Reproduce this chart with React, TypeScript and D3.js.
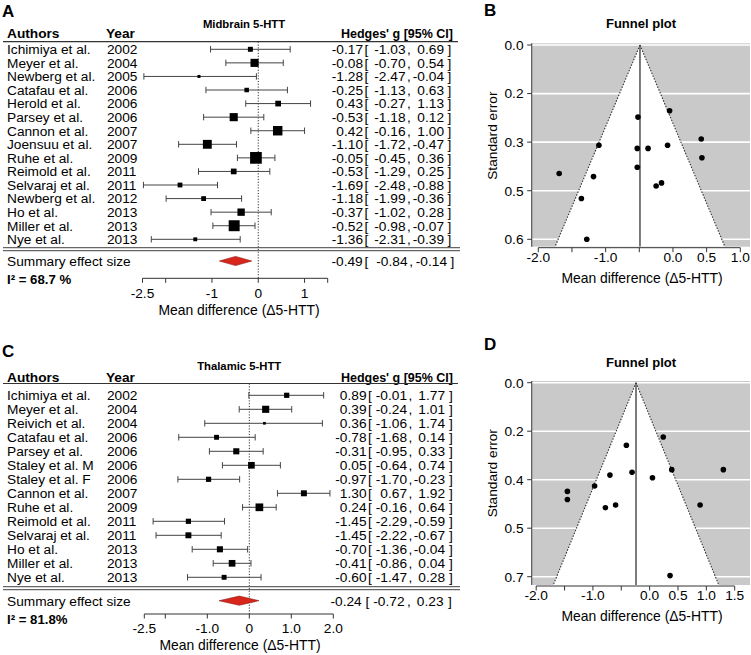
import React from "react";
import * as d3 from "d3";

const FONT = "'Liberation Sans', Arial, Helvetica, sans-serif";

// ---------- Panel A : Midbrain 5-HTT ----------
const authorsA = ["Ichimiya et al.", "Meyer et al.", "Newberg et al.", "Catafau et al.", "Herold et al.", "Parsey et al.", "Cannon et al.", "Joensuu et al.", "Ruhe et al.", "Reimold et al.", "Selvaraj et al.", "Newberg et al.", "Ho et al.", "Miller et al.", "Nye et al."];
const yearsA = ["2002", "2004", "2005", "2006", "2006", "2006", "2007", "2007", "2009", "2011", "2011", "2012", "2013", "2013", "2013"];
const gA = [-0.17, -0.08, -1.28, -0.25, 0.43, -0.53, 0.42, -1.10, -0.05, -0.53, -1.69, -1.18, -0.37, -0.52, -1.36];
const loA = [-1.03, -0.70, -2.47, -1.13, -0.27, -1.18, -0.16, -1.72, -0.45, -1.29, -2.48, -1.99, -1.02, -0.98, -2.31];
const hiA = [0.69, 0.54, -0.04, 0.63, 1.13, 0.12, 1.00, -0.47, 0.36, 0.25, -0.88, -0.36, 0.28, -0.07, -0.39];
const weightA = [5.6, 7.7, 4.3, 5.3, 6.1, 7.7, 8.6, 8.2, 10.1, 6.1, 5.5, 5.5, 7.2, 9.6, 4.9];
const seA = [0.44, 0.32, 0.62, 0.45, 0.36, 0.33, 0.30, 0.32, 0.21, 0.39, 0.41, 0.42, 0.33, 0.23, 0.49];
const summaryA = [-0.49, -0.84, -0.14];
const i2A = "I\u00B2 = 68.7 %";
const ticksA = [-2.5, -2, -1, 0, 1, 1.5];
const tickLabelsA = ["-2.5", "", "-1", "0", "1", ""];

// ---------- Panel C : Thalamic 5-HTT ----------
const authorsC = ["Ichimiya et al.", "Meyer et al.", "Reivich et al.", "Catafau et al.", "Parsey et al.", "Staley et al. M", "Staley et al. F", "Cannon et al.", "Ruhe et al.", "Reimold et al.", "Selvaraj et al.", "Ho et al.", "Miller et al.", "Nye et al."];
const yearsC = ["2002", "2004", "2004", "2006", "2006", "2006", "2006", "2007", "2009", "2011", "2011", "2013", "2013", "2013"];
const gC = [0.89, 0.39, 0.36, -0.78, -0.31, 0.05, -0.97, 1.30, 0.24, -1.45, -1.45, -0.70, -0.41, -0.60];
const loC = [-0.01, -0.24, -1.06, -1.68, -0.95, -0.64, -1.70, 0.67, -0.16, -2.29, -2.22, -1.36, -0.86, -1.47];
const hiC = [1.77, 1.01, 1.74, 0.14, 0.33, 0.74, -0.23, 1.92, 0.64, -0.59, -0.67, -0.04, 0.04, 0.28];
const weightC = [6.6, 7.9, 4.9, 6.4, 7.2, 7.6, 6.6, 7.1, 8.3, 6.6, 7.1, 7.2, 7.6, 6.4];
const seC = [0.45, 0.32, 0.71, 0.46, 0.33, 0.35, 0.38, 0.32, 0.20, 0.43, 0.40, 0.34, 0.23, 0.45];
const summaryC = [-0.24, -0.72, 0.23];
const i2C = "I\u00B2 = 81.8%";
const ticksC = [-2.5, -2, -1, 0, 1, 2];
const tickLabelsC = ["-2.5", "", "-1.0", "0", "1.0", "2.0"];

// ---------- Funnel axes ----------
const funnelXTicksB = [-2, -1.5, -1, -0.5, 0, 0.5, 1];
const funnelXLabelsB = ["-2.0", "", "-1.0", "", "0.0", "0.5", "1.0"];
const funnelYTicksB = [0, 0.155, 0.31, 0.465, 0.62];
const funnelYLabelsB = ["0.0", "0.2", "0.3", "0.5", "0.6"];
const funnelXTicksD = [-2, -1.5, -1, -0.5, 0, 0.5, 1, 1.5];
const funnelXLabelsD = ["-2.0", "", "-1.0", "", "0.0", "0.5", "1.0", "1.5"];
const funnelYTicksD = [0, 0.1785, 0.357, 0.5355, 0.714];
const funnelYLabelsD = ["0.0", "0.2", "0.4", "0.5", "0.7"];

const fmt = (v: number) => v.toFixed(2);

const TXT = 13.7;

function ForestPanel(p: any) {
  const L = p.L;
  const x = d3.scaleLinear().domain(L.xDomain).range(L.xRange);
  const y = d3.scaleLinear().domain([0, p.authors.length - 1]).range(L.rowRange);
  const ext = d3.extent(p.w as number[]) as [number, number];
  const size = d3.scaleLinear().domain(ext).range(L.sizeRange);
  const [sEst, sLo, sHi] = p.summary;
  const sy = L.summaryY;
  const dia = `M${x(sLo)},${sy} L${x(sEst)},${sy - 4.6} L${x(sHi)},${sy} L${x(sEst)},${sy + 4.6} Z`;
  const C = L.cols;
  const S = L.sumCols;
  return (
    <g fontFamily={FONT}>
      <text x={2} y={L.letterY} fontSize={17} fontWeight="bold">{p.letter}</text>
      <text x={L.titleX} y={L.titleY} fontSize={11.3} fontWeight="bold" textAnchor="middle">{p.title}</text>
      <text x={7} y={L.headerY} fontSize={13.7} fontWeight="bold">Authors</text>
      <text x={106} y={L.headerY} fontSize={13.7} fontWeight="bold">Year</text>
      <text x={453} y={L.headerY} fontSize={12.5} fontWeight="bold" textAnchor="end">Hedges' g [95% CI]</text>
      <line x1={3} x2={458} y1={L.headerLineY} y2={L.headerLineY} stroke="#333" strokeWidth={1.2} />
      <line x1={x(0)} x2={x(0)} y1={L.headerLineY} y2={L.axisY} stroke="#333" strokeWidth={1} strokeDasharray="1.2,1.6" />
      {p.authors.map((a: string, i: number) => {
        const cy = y(i);
        const s = size(p.w[i]);
        return (
          <g key={i}>
            <text x={7} y={cy + 4.9} fontSize={TXT}>{a}</text>
            <text x={107} y={cy + 4.9} fontSize={TXT}>{p.years[i]}</text>
            <line x1={x(p.lo[i])} x2={x(p.hi[i])} y1={cy} y2={cy} stroke="#444" strokeWidth={1} />
            <line x1={x(p.lo[i])} x2={x(p.lo[i])} y1={cy - 3.2} y2={cy + 3.2} stroke="#444" strokeWidth={1} />
            <line x1={x(p.hi[i])} x2={x(p.hi[i])} y1={cy - 3.2} y2={cy + 3.2} stroke="#444" strokeWidth={1} />
            <rect x={x(p.g[i]) - s / 2} y={cy - s / 2} width={s} height={s} fill="#000" />
            <text x={C[0]} y={cy + 4.9} fontSize={TXT} textAnchor="end">{fmt(p.g[i])}</text>
            <text x={C[1]} y={cy + 4.9} fontSize={TXT}>[</text>
            <text x={C[2]} y={cy + 4.9} fontSize={TXT} textAnchor="end">{fmt(p.lo[i])}</text>
            <text x={C[3]} y={cy + 4.9} fontSize={TXT}>,</text>
            <text x={C[4]} y={cy + 4.9} fontSize={TXT} textAnchor="end">{fmt(p.hi[i])}</text>
            <text x={C[5]} y={cy + 4.9} fontSize={TXT}>]</text>
          </g>
        );
      })}
      <line x1={3} x2={460} y1={L.dblY[0]} y2={L.dblY[0]} stroke="#666" strokeWidth={1.2} />
      <line x1={3} x2={460} y1={L.dblY[1]} y2={L.dblY[1]} stroke="#666" strokeWidth={1.2} />
      <text x={7} y={sy + 4.9} fontSize={TXT}>Summary effect size</text>
      <path d={dia} fill="#d8261c" stroke="#8a1a12" strokeWidth={0.6} />
      <text x={S[0]} y={sy + 4.9} fontSize={TXT} textAnchor="end">{fmt(sEst)}</text>
      <text x={S[1]} y={sy + 4.9} fontSize={TXT}>[</text>
      <text x={S[2]} y={sy + 4.9} fontSize={TXT} textAnchor="end">{fmt(sLo)}</text>
      <text x={S[3]} y={sy + 4.9} fontSize={TXT}>,</text>
      <text x={S[4]} y={sy + 4.9} fontSize={TXT} textAnchor="end">{fmt(sHi)}</text>
      <text x={S[5]} y={sy + 4.9} fontSize={TXT}>]</text>
      <text x={7} y={L.i2Y} fontSize={13.2} fontWeight="bold">{p.i2}</text>
      <line x1={x(L.xDomain[0])} x2={x(L.xDomain[1])} y1={L.axisY} y2={L.axisY} stroke="#333" strokeWidth={1} />
      {p.ticks.map((t: number, i: number) => (
        <g key={i}>
          <line x1={x(t)} x2={x(t)} y1={L.axisY} y2={L.axisY + 4.5} stroke="#333" strokeWidth={1} />
          <text x={x(t)} y={L.axisY + 19.3} fontSize={TXT} textAnchor="middle">{p.tickLabels[i]}</text>
        </g>
      ))}
      <text x={L.axisTitleX} y={L.axisY + 36.3} fontSize={13.9} textAnchor="middle">Mean difference (Δ5-HTT)</text>
    </g>
  );
}

function FunnelPanel(p: any) {
  const L = p.L;
  const x = d3.scaleLinear().domain(L.xDomain).range(L.xRange);
  const y = d3.scaleLinear().domain(L.yDomain).range(L.yRange);
  const [top, bottom] = L.rectY;
  const [left, right] = L.rectX;
  const seB = y.invert(bottom);
  const s = p.sum;
  const funnel = `M${x(s)},${y(0)} L${x(s - 1.96 * seB)},${bottom} L${x(s + 1.96 * seB)},${bottom} Z`;
  const clipId = "clip" + p.letter;
  const yTitleY = (L.yRange[0] + L.yRange[1]) / 2 - 6.5;
  return (
    <g fontFamily={FONT}>
      <defs>
        <clipPath id={clipId}>
          <rect x={left} y={top} width={right - left} height={bottom - top} />
        </clipPath>
      </defs>
      <text x={484} y={L.letterY} fontSize={17} fontWeight="bold">{p.letter}</text>
      <text x={641} y={L.titleY} fontSize={13} fontWeight="bold" textAnchor="middle">Funnel plot</text>
      <rect x={left} y={top} width={right - left} height={bottom - top} fill="#c9c9c9" />
      <g clipPath={`url(#${clipId})`}>
        {p.yTicks.map((t: number, i: number) => (
          <line key={i} x1={left} x2={right} y1={y(t)} y2={y(t)} stroke="#fff" strokeWidth={1.6} />
        ))}
        <path d={funnel} fill="#fff" />
        <line x1={x(s)} y1={y(0)} x2={x(s - 1.96 * seB)} y2={bottom} stroke="#333" strokeWidth={1.1} strokeDasharray="1.5,1.5" />
        <line x1={x(s)} y1={y(0)} x2={x(s + 1.96 * seB)} y2={bottom} stroke="#333" strokeWidth={1.1} strokeDasharray="1.5,1.5" />
        <line x1={x(s)} x2={x(s)} y1={y(0)} y2={bottom} stroke="#444" strokeWidth={1.4} />
        {p.g.map((g: number, i: number) => (
          <circle key={i} cx={x(g)} cy={y(p.se[i])} r={2.8} fill="#000" />
        ))}
      </g>
      <line x1={left} x2={left} y1={top} y2={bottom} stroke="#555" strokeWidth={1.2} />
      {p.yTicks.map((t: number, i: number) => (
        <g key={i}>
          <line x1={left - 4.5} x2={left} y1={y(t)} y2={y(t)} stroke="#333" strokeWidth={1} />
          <text x={523.5} y={y(t) + 4.9} fontSize={TXT} textAnchor="end">{p.yLabels[i]}</text>
        </g>
      ))}
      <text transform={`translate(${L.yTitleX},${yTitleY}) rotate(-90)`} fontSize={TXT} textAnchor="middle">Standard error</text>
      <line x1={x(p.xTicks[0])} x2={x(p.xTicks[p.xTicks.length - 1])} y1={L.axisY} y2={L.axisY} stroke="#333" strokeWidth={1} />
      {p.xTicks.map((t: number, i: number) => (
        <g key={i}>
          <line x1={x(t)} x2={x(t)} y1={L.axisY} y2={L.axisY + 4.5} stroke="#333" strokeWidth={1} />
          <text x={x(t)} y={L.axisY + 14} fontSize={TXT} textAnchor="middle">{p.xLabels[i]}</text>
        </g>
      ))}
      <text x={642} y={L.axisY + 35} fontSize={13.9} textAnchor="middle">Mean difference (Δ5-HTT)</text>
    </g>
  );
}

const layoutA = {
  letterY: 16.5, titleX: 244, titleY: 27.5, headerY: 38, headerLineY: 41.7,
  rowRange: [49.3, 239.3], dblY: [247.6, 250.6], summaryY: 261, i2Y: 284, axisY: 278.3,
  xDomain: [-2.5, 1.5], xRange: [142.5, 327.7], sizeRange: [3, 11.7], axisTitleX: 239,
  cols: [363, 364.5, 405.5, 407, 444, 447.5], sumCols: [362.7, 364.5, 407.5, 409.3, 447, 450.5],
};
const layoutC = {
  letterY: 357, titleX: 239.2, titleY: 369.5, headerY: 381.5, headerLineY: 383.5,
  rowRange: [395.3, 577.3], dblY: [586.6, 589.6], summaryY: 600.7, i2Y: 623.5, axisY: 614,
  xDomain: [-2.5, 2.0], xRange: [144.3, 333.3], sizeRange: [2.7, 7.7], axisTitleX: 240,
  cols: [366.5, 368, 407, 408.5, 445, 449], sumCols: [361.7, 365.5, 404.5, 407, 443.5, 448],
};
const layoutB = {
  letterY: 16, titleY: 28, xDomain: [-2, 1], xRange: [538.3, 740.3], yDomain: [0, 0.62], yRange: [45, 239.3],
  rectX: [531.7, 750], rectY: [43.3, 246.7], axisY: 247.7, yTitleX: 497,
};
const layoutD = {
  letterY: 350, titleY: 366.5, xDomain: [-2, 1.5], xRange: [536.2, 734.7], yDomain: [0, 0.714], yRange: [382.7, 576.7],
  rectX: [531.7, 750], rectY: [381, 585], axisY: 586, yTitleX: 497,
};

export default function App() {
  return (
    <svg width={751} height={655} style={{ position: "absolute", left: 0, top: 0, background: "#fff" }}>
      <rect x={0} y={0} width={751} height={655} fill="#fff" />
      <ForestPanel L={layoutA} letter="A" title="Midbrain 5-HTT" authors={authorsA} years={yearsA} g={gA} lo={loA} hi={hiA} w={weightA} summary={summaryA} i2={i2A} ticks={ticksA} tickLabels={tickLabelsA} />
      <ForestPanel L={layoutC} letter="C" title="Thalamic 5-HTT" authors={authorsC} years={yearsC} g={gC} lo={loC} hi={hiC} w={weightC} summary={summaryC} i2={i2C} ticks={ticksC} tickLabels={tickLabelsC} />
      <FunnelPanel L={layoutB} letter="B" g={gA} se={seA} sum={summaryA[0]} xTicks={funnelXTicksB} xLabels={funnelXLabelsB} yTicks={funnelYTicksB} yLabels={funnelYLabelsB} />
      <FunnelPanel L={layoutD} letter="D" g={gC} se={seC} sum={summaryC[0]} xTicks={funnelXTicksD} xLabels={funnelXLabelsD} yTicks={funnelYTicksD} yLabels={funnelYLabelsD} />
    </svg>
  );
}
